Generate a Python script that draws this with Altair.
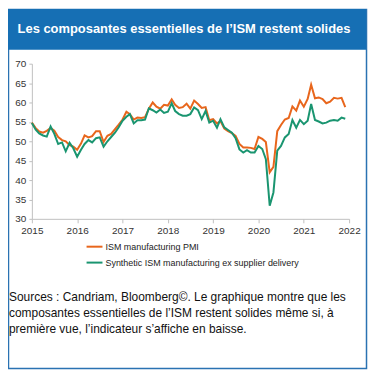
import altair as alt
import pandas as pd

# ---------------- data ----------------
months = pd.date_range("2015-01-01", periods=84, freq="MS")

ism_pmi = [
    54.8, 53.4, 52.5, 52.2, 52.7, 53.4, 52.7, 51.1, 50.3, 50.0, 49.0, 48.6,   # 2015
    47.8, 49.4, 51.5, 51.0, 51.3, 52.6, 52.6, 49.8, 51.4, 51.9, 53.1, 54.3,   # 2016
    55.6, 57.6, 57.0, 55.6, 56.1, 56.0, 56.2, 58.4, 60.0, 58.9, 58.4, 59.4,   # 2017
    59.2, 60.8, 59.4, 58.6, 58.8, 59.7, 58.4, 60.5, 59.6, 58.6, 58.8, 55.4,   # 2018
    55.7, 54.6, 55.2, 53.3, 52.6, 52.1, 51.4, 49.3, 48.4, 48.4, 48.3, 48.0,   # 2019
    51.1, 50.6, 49.8, 42.0, 43.4, 52.6, 54.2, 55.6, 56.0, 59.0, 57.9, 60.5,   # 2020
    58.9, 60.9, 64.6, 61.1, 61.3, 60.9, 59.8, 60.2, 61.2, 61.0, 61.2, 58.8,   # 2021
]

synthetic = [
    54.7, 53.0, 52.0, 51.5, 51.2, 53.8, 51.9, 49.3, 49.7, 47.4, 49.6, 48.2,   # 2015
    46.0, 47.8, 49.3, 50.3, 49.7, 50.8, 51.0, 48.6, 50.0, 51.1, 52.2, 53.6,   # 2016
    55.3, 56.3, 57.0, 54.6, 55.4, 55.4, 55.6, 58.5, 58.0, 57.4, 58.2, 57.3,   # 2017
    57.6, 59.8, 57.8, 57.0, 56.6, 56.6, 57.0, 58.7, 58.0, 55.7, 57.8, 54.8,   # 2018
    55.3, 53.5, 55.7, 53.6, 52.9, 52.2, 50.8, 47.9, 47.1, 47.7, 47.1, 47.1,   # 2019
    48.8, 48.0, 45.4, 33.4, 36.8, 47.6, 48.8, 51.0, 51.9, 55.5, 53.5, 55.5,   # 2020
    54.4, 55.3, 59.6, 55.5, 55.1, 54.6, 54.8, 55.3, 55.5, 55.3, 56.1, 55.8,   # 2021
]

series_names = ["ISM manufacturing PMI", "Synthetic ISM manufacturing ex supplier delivery"]
series_colors = ["#E8661C", "#1A9570"]
year_ticks = list(range(2015, 2023))
y_ticks = list(range(30, 75, 5))

title_text = "Les composantes essentielles de l’ISM restent solides"
caption_lines = [
    "Sources : Candriam, Bloomberg©. Le graphique montre que les",
    "composantes essentielles de l’ISM restent solides même si, à",
    "première vue, l’indicateur s’affiche en baisse.",
]

df = pd.DataFrame({
    "date": list(months) * 2,
    "value": ism_pmi + synthetic,
    "series": [series_names[0]] * len(ism_pmi) + [series_names[1]] * len(synthetic),
})

FONT = "Liberation Sans"
BLUE = "#166FB4"
W, H = 319, 156

one = pd.DataFrame({"k": [0]})

frame = alt.Chart(one).mark_rect(
    fillOpacity=0, stroke="#2A72B2", strokeWidth=1.5
).encode(
    x=alt.value(-23.5), x2=alt.value(336.5), y=alt.value(-54.5), y2=alt.value(306.5)
)

title_bar = alt.Chart(one).mark_rect(color=BLUE).encode(
    x=alt.value(-24), x2=alt.value(336), y=alt.value(-55), y2=alt.value(-14)
)

title = alt.Chart(one).mark_text(
    font=FONT, fontSize=13, fontWeight="bold", color="white",
    align="center", baseline="middle"
).encode(x=alt.value(153), y=alt.value(-35), text=alt.value(title_text))

lines = alt.Chart(df).mark_line(strokeWidth=2).encode(
    x=alt.X(
        "date:T",
        scale=alt.Scale(domain=[alt.DateTime(year=2015, month=1, date=1),
                                alt.DateTime(year=2022, month=1, date=1)]),
        axis=alt.Axis(
            values=[alt.DateTime(year=y, month=1, date=1) for y in year_ticks],
            format="%Y", title=None, grid=False, labelAngle=0,
            labelFont=FONT, labelFontSize=10, labelColor="#333333",
            domainColor="#BFBFBF", tickColor="#BFBFBF", tickSize=4,
            labelPadding=3, labelFlush=False, labelOverlap=False,
        ),
    ),
    y=alt.Y(
        "value:Q",
        scale=alt.Scale(domain=[30, 70], nice=False, zero=False),
        axis=alt.Axis(
            values=y_ticks, title=None, grid=False,
            labelFont=FONT, labelFontSize=10, labelColor="#333333",
            domainColor="#BFBFBF", tickColor="#BFBFBF", tickSize=3,
            labelPadding=3,
        ),
    ),
    color=alt.Color(
        "series:N",
        scale=alt.Scale(domain=series_names, range=series_colors),
        legend=alt.Legend(
            title=None, orient="none", legendX=54, legendY=175,
            direction="vertical", symbolType="stroke", symbolSize=256,
            symbolStrokeWidth=2, labelFont=FONT, labelFontSize=9,
            labelColor="#222222", labelOffset=2, rowPadding=2, padding=0,
            labelLimit=400,
        ),
    ),
    order="series:N",
)

caption = alt.Chart(one).mark_text(
    font=FONT, fontSize=12, color="#111111", align="left", baseline="top",
    lineHeight=16
).encode(x=alt.value(-23), y=alt.value(229.5), text=alt.value(caption_lines))

chart = alt.layer(frame, title_bar, title, lines, caption).properties(
    width=W, height=H,
    autosize=alt.AutoSizeParams(type="none"),
    padding={"left": 24, "top": 55, "right": 19, "bottom": 152},
    background="white",
).configure_view(strokeWidth=0)

chart.save("out.html", embed_options={"renderer": "svg", "actions": False})
